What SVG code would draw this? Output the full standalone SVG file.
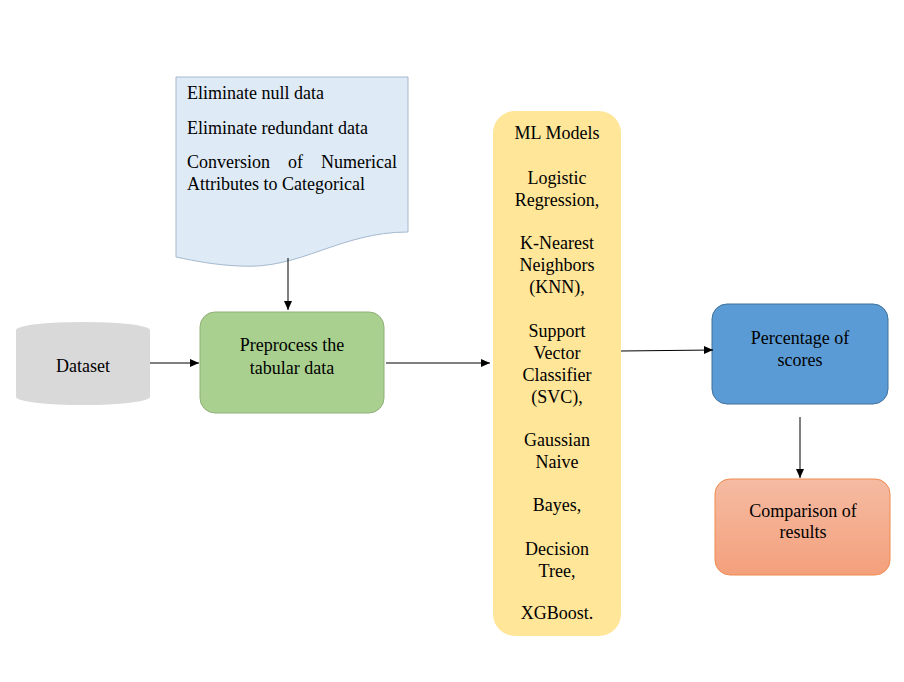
<svg xmlns="http://www.w3.org/2000/svg" width="904" height="682" viewBox="0 0 904 682">
<defs>
<style>
text{font-family:"Liberation Serif","Times New Roman","DejaVu Serif",serif;font-size:18px;fill:#000}
.c{text-anchor:middle}
.edge{stroke:#000;stroke-width:1;fill:none;marker-end:url(#ah)}
</style>
<marker id="ah" markerWidth="10" markerHeight="10" refX="9" refY="5" orient="auto" markerUnits="userSpaceOnUse">
<path d="M0,1 L9,5 L0,9 Z" fill="#000"/>
</marker>
<linearGradient id="og" x1="0" y1="0" x2="0" y2="1">
<stop offset="0" stop-color="#f5bba2"/>
<stop offset="1" stop-color="#f4a07c"/>
</linearGradient>
</defs>
<rect width="904" height="682" fill="#fff"/>
<g id="doc">
<path d="M176,77 H408 V232 C340,232 300,270 240,266 C215,265 195,261 176,257 Z" fill="#deeaf6" stroke="#a5b9cf" stroke-width="1"/>
<text x="187" y="99">Eliminate null data</text>
<text x="187" y="134">Eliminate redundant data</text>
<text x="187" y="168">Conversion</text>
<text x="288" y="168">of</text>
<text x="397" y="168" text-anchor="end">Numerical</text>
<text x="187" y="190">Attributes to Categorical</text>
</g>
<g id="dataset">
<path d="M16,330 A67,8 0 0 1 150,330 V397 A67,8 0 0 1 16,397 Z" fill="#d9d9d9"/>
<text class="c" x="83" y="372">Dataset</text>
</g>
<g id="preprocess">
<rect x="200" y="312" width="184" height="101" rx="15" fill="#a9d08e" stroke="#8fb07a"/>
<text class="c" x="292" y="351">Preprocess the</text>
<text class="c" x="292" y="374">tabular data</text>
</g>
<g id="models">
<rect x="493" y="111" width="128" height="525" rx="22" fill="#ffe699"/>
<text class="c" x="557" y="139">ML Models</text>
<text class="c" x="557" y="184">Logistic</text>
<text class="c" x="557" y="206">Regression,</text>
<text class="c" x="557" y="249">K-Nearest</text>
<text class="c" x="557" y="271">Neighbors</text>
<text class="c" x="557" y="293">(KNN),</text>
<text class="c" x="557" y="337">Support</text>
<text class="c" x="557" y="359">Vector</text>
<text class="c" x="557" y="381">Classifier</text>
<text class="c" x="557" y="403">(SVC),</text>
<text class="c" x="557" y="446">Gaussian</text>
<text class="c" x="557" y="468">Naive</text>
<text class="c" x="557" y="511">Bayes,</text>
<text class="c" x="557" y="555">Decision</text>
<text class="c" x="557" y="577">Tree,</text>
<text class="c" x="557" y="619">XGBoost.</text>
</g>
<g id="percentage">
<rect x="712" y="304" width="176" height="100" rx="15" fill="#5b9bd5" stroke="#41719c"/>
<text class="c" x="800" y="344">Percentage of</text>
<text class="c" x="800" y="366">scores</text>
</g>
<g id="comparison">
<rect x="715" y="479" width="175" height="96" rx="15" fill="url(#og)" stroke="#f08a4f"/>
<text class="c" x="803" y="517">Comparison of</text>
<text class="c" x="803" y="538">results</text>
</g>
<g id="connectors">
<line class="edge" x1="288" y1="258" x2="288" y2="310"/>
<line class="edge" x1="150" y1="363" x2="199" y2="363"/>
<line class="edge" x1="386" y1="363" x2="490" y2="363"/>
<line class="edge" x1="621" y1="351" x2="713" y2="350"/>
<line class="edge" x1="800" y1="417" x2="800" y2="478"/>
</g>
</svg>
